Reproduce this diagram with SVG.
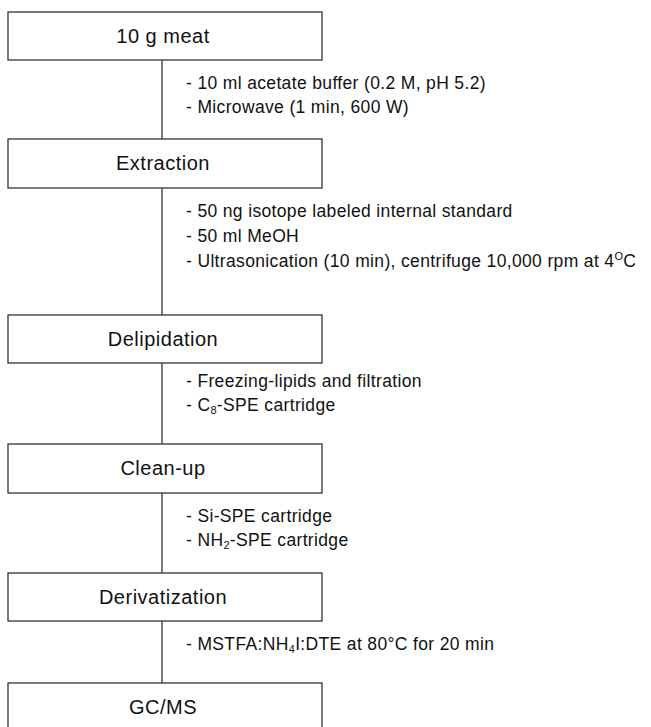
<svg xmlns="http://www.w3.org/2000/svg" width="651" height="727" viewBox="0 0 651 727">
<style>
.box{fill:#fff;stroke:#333;stroke-width:1.3}
.conn{stroke:#333;stroke-width:1.3;fill:none}
.t{font-family:"Liberation Sans",Arial,sans-serif;font-size:20px;letter-spacing:0.5px;fill:#111;text-anchor:middle}
.s{font-family:"Liberation Sans",Arial,sans-serif;font-size:17.5px;letter-spacing:0.35px;fill:#111}
.sub{font-size:11px}
</style>
<rect width="651" height="727" fill="#fff"/>
<g id="connectors">
<line class="conn" x1="162" y1="60" x2="162" y2="139"/>
<line class="conn" x1="162" y1="188" x2="162" y2="315"/>
<line class="conn" x1="162" y1="363" x2="162" y2="444"/>
<line class="conn" x1="162" y1="493" x2="162" y2="573"/>
<line class="conn" x1="162" y1="621" x2="162" y2="683"/>
</g>
<g id="n1"><rect class="box" x="8" y="12" width="314" height="48"/><text class="t" x="163" y="43">10 g meat</text></g>
<g id="n2"><rect class="box" x="8" y="139" width="314" height="49"/><text class="t" x="163" y="170">Extraction</text></g>
<g id="n3"><rect class="box" x="8" y="315" width="314" height="48"/><text class="t" x="163" y="346">Delipidation</text></g>
<g id="n4"><rect class="box" x="8" y="444" width="314" height="49"/><text class="t" x="163" y="475">Clean-up</text></g>
<g id="n5"><rect class="box" x="8" y="573" width="314" height="48"/><text class="t" x="163" y="604">Derivatization</text></g>
<g id="n6"><rect class="box" x="8" y="683" width="314" height="50"/><text class="t" x="163" y="714">GC/MS</text></g>
<g id="labels">
<text class="s" x="186" y="89">- 10 ml acetate buffer (0.2 M, pH 5.2)</text>
<text class="s" x="186" y="113">- Microwave (1 min, 600 W)</text>
<text class="s" x="186" y="217">- 50 ng isotope labeled internal standard</text>
<text class="s" x="186" y="242">- 50 ml MeOH</text>
<text class="s" x="186" y="267">- Ultrasonication (10 min), centrifuge 10,000 rpm at 4<tspan class="sub" dy="-7">O</tspan><tspan dy="7">C</tspan></text>
<text class="s" x="186" y="387">- Freezing-lipids and filtration</text>
<text class="s" x="186" y="411">- C<tspan class="sub" dy="3">8</tspan><tspan dy="-3">-SPE cartridge</tspan></text>
<text class="s" x="186" y="522">- Si-SPE cartridge</text>
<text class="s" x="186" y="546">- NH<tspan class="sub" dy="3">2</tspan><tspan dy="-3">-SPE cartridge</tspan></text>
<text class="s" x="186" y="650">- MSTFA:NH<tspan class="sub" dy="3">4</tspan><tspan dy="-3">I:DTE at 80°C for 20 min</tspan></text>
</g>
</svg>
